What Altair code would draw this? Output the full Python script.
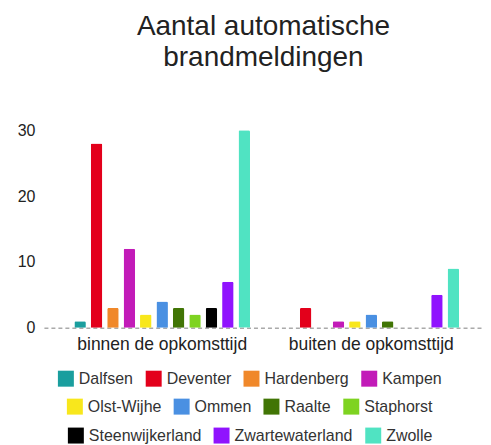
import altair as alt
import pandas as pd

categories = ["binnen de opkomsttijd", "buiten de opkomsttijd"]
gemeenten = ["Dalfsen", "Deventer", "Hardenberg", "Kampen", "Olst-Wijhe", "Ommen",
             "Raalte", "Staphorst", "Steenwijkerland", "Zwartewaterland", "Zwolle"]
binnen = [1, 28, 3, 12, 2, 4, 3, 2, 3, 7, 30]
buiten = [0, 3, 0, 1, 1, 2, 1, 0, 0, 5, 9]
colors = ["#1a9e9e", "#e3001b", "#f0882a", "#c21bb8", "#f8e71c", "#4a90e2",
          "#417505", "#7ed321", "#000000", "#9013fe", "#50e3c2"]

rows = []
for g, b, u in zip(gemeenten, binnen, buiten):
    rows.append({"periode": categories[0], "gemeente": g, "aantal": b})
    rows.append({"periode": categories[1], "gemeente": g, "aantal": u})
df = pd.DataFrame(rows)

FONT = "Liberation Sans"
legend_groups = [(0, 4, 14, 241), (4, 8, 23, 269), (8, 11, 24, 298)]

base = alt.Chart(df)
layers = []
for start, stop, lx, ly in legend_groups:
    subset = gemeenten[start:stop]
    layer = base.transform_filter(
        alt.FieldOneOfPredicate(field="gemeente", oneOf=subset)
    ).mark_bar(cornerRadiusTopLeft=1.5, cornerRadiusTopRight=1.5).encode(
        x=alt.X("periode:N", sort=categories, title=None,
                scale=alt.Scale(domain=categories, paddingInner=0.16, paddingOuter=0.13, align=0.56),
                axis=alt.Axis(labelAngle=0, labelFontSize=17.5, labelColor="#222", labelFont=FONT,
                              ticks=False, tickSize=0, labelPadding=8,
                              domainColor="#aaaaaa", domainDash=[4, 3], domainWidth=1.5)),
        xOffset=alt.XOffset("gemeente:N", sort=gemeenten,
                            scale=alt.Scale(domain=gemeenten, paddingInner=0.3, paddingOuter=0)),
        y=alt.Y("aantal:Q", title=None,
                scale=alt.Scale(domain=[0, 30], nice=False),
                axis=alt.Axis(values=[0, 10, 20, 30], grid=False, domain=False, ticks=False,
                              tickSize=0, labelPadding=9, labelFontSize=16, labelColor="#222",
                              labelFont=FONT)),
        color=alt.Color("gemeente:N", sort=subset,
                        scale=alt.Scale(domain=subset, range=colors[start:stop]),
                        legend=alt.Legend(title=None, orient="none", legendX=lx, legendY=ly,
                                          direction="horizontal", symbolType="square",
                                          symbolSize=256, symbolStrokeWidth=0,
                                          labelFontSize=16, labelColor="#333", labelFont=FONT,
                                          labelOffset=5, columnPadding=12, labelLimit=300)),
    )
    layers.append(layer)

chart = alt.layer(*layers).resolve_scale(color="independent").properties(
    width=440,
    height=198,
    padding={"left": 9, "top": 5, "right": 0, "bottom": 5},
    title=alt.TitleParams(["Aantal automatische", "brandmeldingen"], fontSize=28,
                          font=FONT, fontWeight="normal", color="#222", lineHeight=31,
                          anchor="middle", offset=50),
).configure_view(stroke=None)

chart.save("out.html", embed_options={"renderer": "svg", "actions": False})
